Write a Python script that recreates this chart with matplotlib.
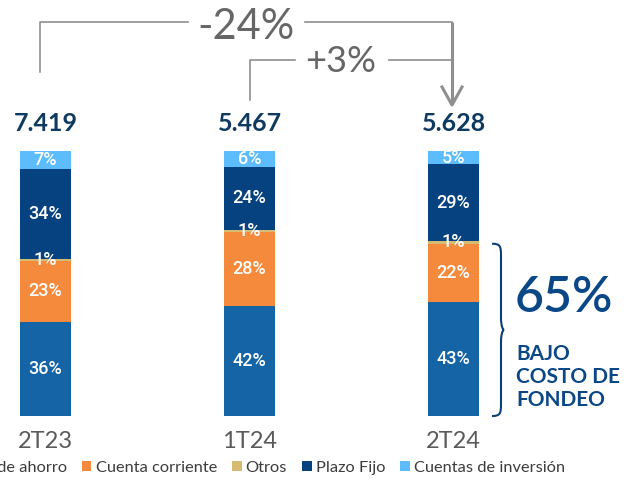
import matplotlib.pyplot as plt
from matplotlib.path import Path
from matplotlib.patches import PathPatch, Patch

# Data
periods = ["2T23", "1T24", "2T24"]
totals = ["7.419", "5.467", "5.628"]
series = ["Cuenta de ahorro", "Cuenta corriente", "Otros", "Plazo Fijo", "Cuentas de inversión"]
ahorro = [36, 42, 43]
corriente = [23, 28, 22]
otros = [1, 1, 1]
plazo_fijo = [34, 24, 29]
inversion = [7, 6, 5]
colors = ["#1565A6", "#F68A3C", "#D6BB73", "#074280", "#5CBCFC"]
change_total = "-24%"
change_quarter = "+3%"
low_cost_share = "65%"
low_cost_label = "BAJO\nCOSTO DE\nFONDEO"

plt.rcParams["font.family"] = ["Lato", "DejaVu Sans"]

W, H = 638, 482
fig = plt.figure(figsize=(W / 100, H / 100), dpi=100)
ax = fig.add_axes([0, 0, 1, 1])
ax.axis("off")

# pixel layout helpers (bar centres 204 px apart, 100% = 265 px)
x0_px, x_step = 45.5, 204.0
y0_px, y_step = 416.0, 2.65
ax.set_xlim(-x0_px / x_step, (W - x0_px) / x_step)
ax.set_ylim(-(H - y0_px) / y_step, y0_px / y_step)

def px2x(p):
    return (p - x0_px) / x_step

def px2y(p):
    return (y0_px - p) / y_step

stack = [ahorro, corriente, otros, plazo_fijo, inversion]
xs = list(range(len(periods)))
sums = [sum(v[i] for v in stack) for i in xs]
bottoms = [0.0] * len(xs)
for vals, col in zip(stack, colors):
    heights = [vals[i] * 100 / sums[i] for i in xs]
    ax.bar(xs, heights, width=0.25, bottom=bottoms, color=col, linewidth=0)
    for i in xs:
        ax.text(i, bottoms[i] + heights[i] / 2, f"{vals[i]}%", ha="center", va="center",
                color="white", fontsize=13, fontweight="medium",
                family=["Roboto", "DejaVu Sans"])
    bottoms = [b + h for b, h in zip(bottoms, heights)]

for i in xs:
    ax.text(i, bottoms[i] + 10.5, totals[i], ha="center", va="center",
            color="#0E3A61", fontsize=18, fontweight="bold")
    ax.text(i, px2y(442), periods[i], ha="center", va="center",
            color="#5A5A5A", fontsize=17, fontweight="normal")

# change brackets
gray = "#8F8F8F"
ax_x = px2x(452)
ax.plot([px2x(40), px2x(40), px2x(188)], [px2y(72), px2y(22), px2y(22)], color=gray, lw=1.2)
ax.plot([px2x(305), ax_x], [px2y(22), px2y(22)], color=gray, lw=1.2)
ax.text(px2x(246), px2y(27), change_total, ha="center", va="center",
        color="#666666", fontsize=30, fontweight="normal")
ax.plot([px2x(250), px2x(250), px2x(295)], [px2y(100), px2y(60), px2y(60)], color=gray, lw=1.2)
ax.plot([px2x(389), ax_x], [px2y(60), px2y(60)], color=gray, lw=1.2)
ax.text(px2x(341), px2y(62), change_quarter, ha="center", va="center",
        color="#666666", fontsize=26, fontweight="normal")
ax.plot([ax_x, ax_x], [px2y(22), px2y(104)], color=gray, lw=2.2, solid_capstyle="butt")
ax.plot([px2x(442), ax_x, px2x(462)], [px2y(87), px2y(105), px2y(87)], color=gray, lw=2.2)

# brace over low cost funding
low_top = (ahorro[2] + corriente[2]) * 100 / sums[2]
xe, xm, xt = px2x(492), px2x(501), px2x(504)
yb, yt = 0.0, low_top
ym = (yb + yt) / 2
r = 4.5
verts = [
    (xe, yt),
    (xe + (xm - xe) * 0.9, yt), (xm, yt - r * 0.2), (xm, yt - r),
    (xm, ym + r),
    (xm, ym + r * 0.3), (xt - 0.005, ym), (xt, ym),
    (xt - 0.005, ym), (xm, ym - r * 0.3), (xm, ym - r),
    (xm, yb + r),
    (xm, yb + r * 0.2), (xe + (xm - xe) * 0.9, yb), (xe, yb),
]
codes = [Path.MOVETO] + [Path.CURVE4] * 3 + [Path.LINETO] + [Path.CURVE4] * 6 + \
        [Path.LINETO] + [Path.CURVE4] * 3
ax.add_patch(PathPatch(Path(verts, codes), facecolor="none", edgecolor="#0B3F78", lw=1.5))

ax.text(px2x(515), px2y(297), low_cost_share, ha="left", va="center",
        color="#0A4787", fontsize=36, fontweight="semibold")
ax.text(px2x(516), px2y(377), low_cost_label, ha="left", va="center",
        color="#0A4787", fontsize=15, fontweight="bold", linespacing=1.2)

# legend
handles = [Patch(facecolor=c, edgecolor="none") for c in colors]
leg = fig.legend(handles, series, loc="center right", bbox_to_anchor=(565 / W, 1 - 468 / H),
                 ncol=5, frameon=False, fontsize=11.8, handlelength=0.6, handleheight=0.6,
                 handletextpad=0.25, columnspacing=0.9, borderpad=0, borderaxespad=0)
for t in leg.get_texts():
    t.set_color("#3C3C3C")

fig.savefig("out.png", dpi=100)
